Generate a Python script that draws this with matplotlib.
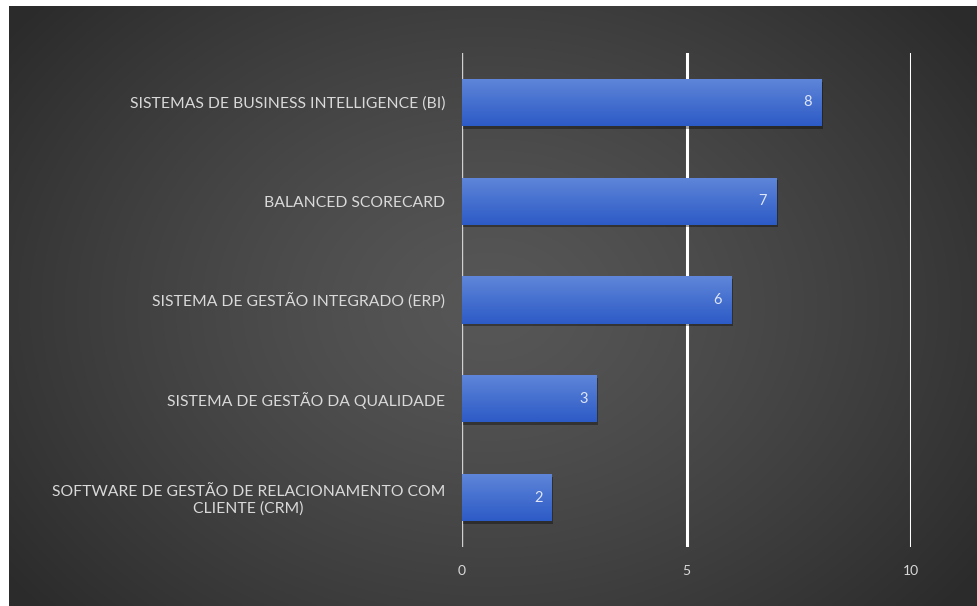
import numpy as np
import matplotlib.pyplot as plt
import matplotlib.patheffects as pe

# data
categories = [
    "SISTEMAS DE BUSINESS INTELLIGENCE (BI)",
    "BALANCED SCORECARD",
    "SISTEMA DE GESTÃO INTEGRADO (ERP)",
    "SISTEMA DE GESTÃO DA QUALIDADE",
    "SOFTWARE DE GESTÃO DE RELACIONAMENTO COM\nCLIENTE (CRM)",
]
values = [8, 7, 6, 3, 2]
x_ticks = [0, 5, 10]

plt.rcParams['font.family'] = ['Lato', 'DejaVu Sans']

fig = plt.figure(figsize=(9.77, 6.06), dpi=100)
fig.patch.set_facecolor('white')

# radial gradient background
bg = fig.add_axes([9 / 977, 0, 1 - 9 / 977, 600 / 606])
bg.set_axis_off()
yy, xx = np.mgrid[0:300, 0:484]
cx, cy = 240, 150
d = np.sqrt(((xx - cx) / 300.0) ** 2 + ((yy - cy) / 230.0) ** 2)
d = np.clip(d, 0, 1)
shade = 0.34 - 0.17 * d ** 1.3
img = np.dstack([shade, shade, shade])
bg.imshow(img, aspect='auto', extent=[0, 1, 0, 1], interpolation='bicubic')
bg.set_xlim(0, 1)
bg.set_ylim(0, 1)

ax = fig.add_axes([462 / 977, 1 - 547 / 606, (911 - 462) / 977, (547 - 53) / 606])
ax.set_facecolor('none')

ypos = np.arange(len(categories))
h = 0.476
bars = ax.barh(ypos, values, height=h, color='#3e69cf', zorder=3,
               path_effects=[pe.SimplePatchShadow(offset=(1, -2), shadow_rgbFace='black', alpha=0.35),
                             pe.Normal()])

# vertical gradient in each bar: lighter at top, darker at bottom
grad = np.linspace(0, 1, 64).reshape(-1, 1)
top = np.array([0x5f, 0x86, 0xd9]) / 255
bot = np.array([0x2d, 0x5b, 0xc6]) / 255
gimg = top[None, None, :] * (1 - grad[:, :, None]) + bot[None, None, :] * grad[:, :, None]
for b, v, y in zip(bars, values, ypos):
    # y axis is inverted, so give extent bottom->top as y+h/2 -> y-h/2
    im = ax.imshow(gimg, extent=[0, v, y + h / 2, y - h / 2], aspect='auto', zorder=4,
                   interpolation='bicubic', origin='upper')
    im.set_clip_path(b)
    ax.text(v - 0.3, y, str(v), ha='center', va='center', color='#dfe6f7',
            fontsize=10.5, zorder=5)

ax.set_xlim(0, 10)
ax.set_ylim(len(categories) - 0.5, -0.5)
ax.set_xticks(x_ticks)
ax.set_xticklabels([str(t) for t in x_ticks])
ax.set_yticks(ypos)
ax.set_yticklabels(categories)
for lbl in ax.get_yticklabels():
    lbl.set_multialignment('center')

for t in x_ticks[1:]:
    ax.axvline(t, color='white', lw=2.2, zorder=2)
ax.axvline(0, color='#d0d0d0', lw=1, zorder=2)

for s in ax.spines.values():
    s.set_visible(False)
ax.tick_params(axis='both', length=0, colors='#d9d9d9')
ax.tick_params(axis='y', pad=12, labelsize=11.3)
ax.tick_params(axis='x', pad=13, labelsize=10)

fig.savefig('out.png', dpi=100, facecolor=fig.get_facecolor())
